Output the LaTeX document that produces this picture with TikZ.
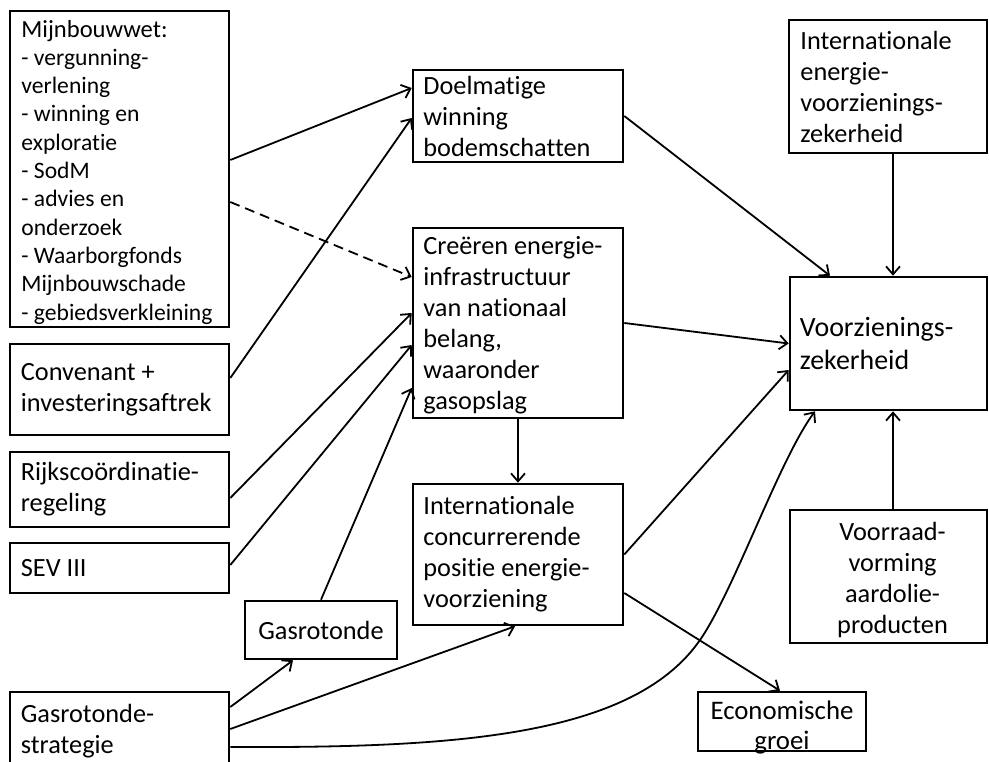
\documentclass[tikz,border=0pt]{standalone}
\usepackage{fontspec}
\setmainfont{Carlito}[Ligatures=NoCommon]
\usetikzlibrary{arrows.meta}
\begin{document}
\begin{tikzpicture}[x=1pt,y=-1pt,
  box/.style={draw, line width=2.6pt, inner sep=0pt},
  txt/.style={inner sep=0pt, anchor=west, align=left, font=\fontsize{26.3}{31}\selectfont},
  ctxt/.style={inner sep=0pt, align=center, font=\fontsize{26.3}{31}\selectfont},
  arr/.style={line width=1.8pt, -{Straight Barb[length=8pt,width=14pt]}},
  dsh/.style={dash pattern=on 10pt off 6pt}]
\useasboundingbox (0,0) rectangle (989,762);
\clip (0,0) rectangle (989,762);
% boxes
\node[box, minimum width=219pt, minimum height=316pt] (mijn) at (119.5,169) {};
\node[box, minimum width=219pt, minimum height=91pt] (conv) at (119.5,389.5) {};
\node[box, minimum width=219pt, minimum height=75pt] (rijks) at (119.5,489.5) {};
\node[box, minimum width=219pt, minimum height=50pt] (sev) at (119.5,568) {};
\node[box, minimum width=152pt, minimum height=58pt] (gasr) at (321,630) {};
\node[box, minimum width=219pt, minimum height=78pt] (strat) at (119.5,731) {};
\node[box, minimum width=210pt, minimum height=92pt] (doel) at (518,116) {};
\node[box, minimum width=210pt, minimum height=190pt] (crea) at (518,323) {};
\node[box, minimum width=210pt, minimum height=141pt] (ic) at (518,554.5) {};
\node[box, minimum width=168pt, minimum height=59pt] (eco) at (782,721.5) {};
\node[box, minimum width=198pt, minimum height=133pt] (inten) at (888,86.5) {};
\node[box, minimum width=197pt, minimum height=133pt] (voorz) at (888.5,343.5) {};
\node[box, minimum width=197pt, minimum height=133pt] (voorr) at (888.5,576.5) {};
% texts
\node[txt, font=\fontsize{23.6}{28.3}\selectfont] (t-mijn) at ([xshift=12.5pt,yshift=-3pt]mijn.west)
  {{\fontsize{24.6}{28.3}\selectfont Mijnbouwwet:}\\- vergunning-\\verlening\\- winning en\\exploratie\\- SodM\\- advies en\\onderzoek\\- Waarborgfonds\\Mijnbouwschade\\- gebiedsverkleining};
\node[txt] (t-conv) at ([xshift=12pt]conv.west) {Convenant +\\investeringsaftrek};
\node[txt] (t-rijks) at ([xshift=12pt]rijks.west) {Rijkscoördinatie-\\regeling};
\node[txt] (t-sev) at ([xshift=12pt]sev.west) {SEV III};
\node[ctxt] (t-gasr) at (gasr.center) {Gasrotonde};
\node[txt] (t-strat) at ([xshift=12pt]strat.west) {Gasrotonde-\\strategie};
\node[txt] (t-doel) at ([xshift=11.5pt]doel.west) {Doelmatige\\winning\\bodemschatten};
\node[txt] (t-crea) at ([xshift=11.5pt,yshift=-2pt]crea.west) {Creëren energie-\\infrastructuur\\van nationaal\\belang,\\waaronder\\gasopslag};
\node[txt] (t-ic) at ([xshift=11.5pt]ic.west) {Internationale\\concurrerende\\positie energie-\\voorziening};
\node[ctxt, font=\fontsize{26.8}{30}\selectfont] (t-eco) at ([yshift=-6pt]eco.center) {Economische\\groei};
\node[txt] (t-inten) at ([xshift=12.5pt]inten.west) {Internationale\\energie-\\voorzienings-\\zekerheid};
\node[txt, font=\fontsize{27.9}{33}\selectfont] (t-voorz) at ([xshift=11pt]voorz.west) {Voorzienings-\\zekerheid};
\node[ctxt] (t-voorr) at ([xshift=4pt,yshift=-3pt]voorr.center) {Voorraad-\\vorming\\aardolie-\\producten};
% connectors
\coordinate (curvemid) at (700,640);
\draw[arr] ([yshift=9pt]mijn.east) -- ([yshift=28pt]doel.west);
\draw[arr] ([yshift=11.5pt]conv.east) -- ([yshift=-2pt]doel.west);
\draw[arr, dsh] ([yshift=-33pt]mijn.east) -- ([yshift=46pt]crea.west);
\draw[arr] ([yshift=-8.5pt]rijks.east) -- ([yshift=10pt]crea.west);
\draw[arr] ([yshift=3pt]sev.east) -- ([yshift=-22pt]crea.west);
\draw[arr] (gasr.north) -- ([yshift=-65pt]crea.west);
\draw[arr] (doel.east) -- ([xshift=-58.5pt]voorz.north);
\draw[arr] ([xshift=5pt]inten.south) -- ([xshift=4.5pt]voorz.north);
\draw[arr] (crea.east) -- (voorz.west);
\draw[arr] (crea.south) -- (ic.north);
\draw[arr] (ic.east) -- ([yshift=-26.5pt]voorz.west);
\draw[arr] ([yshift=-38.5pt]ic.east) -- ([xshift=-2pt]eco.north);
\draw[arr] ([xshift=4.5pt]voorr.north) -- ([xshift=4.5pt]voorz.south);
\draw[arr] ([yshift=24pt]strat.east) -- ([xshift=-28pt]gasr.south);
\draw[arr] ([yshift=2pt]strat.east) -- ([xshift=-3pt]ic.south);
\draw[arr] ([yshift=-16pt]strat.east) .. controls (450,748) and (632,738) .. (curvemid)
  .. controls (734,591) and (779,460) .. ([xshift=-73.5pt]voorz.south);
\end{tikzpicture}
\end{document}
